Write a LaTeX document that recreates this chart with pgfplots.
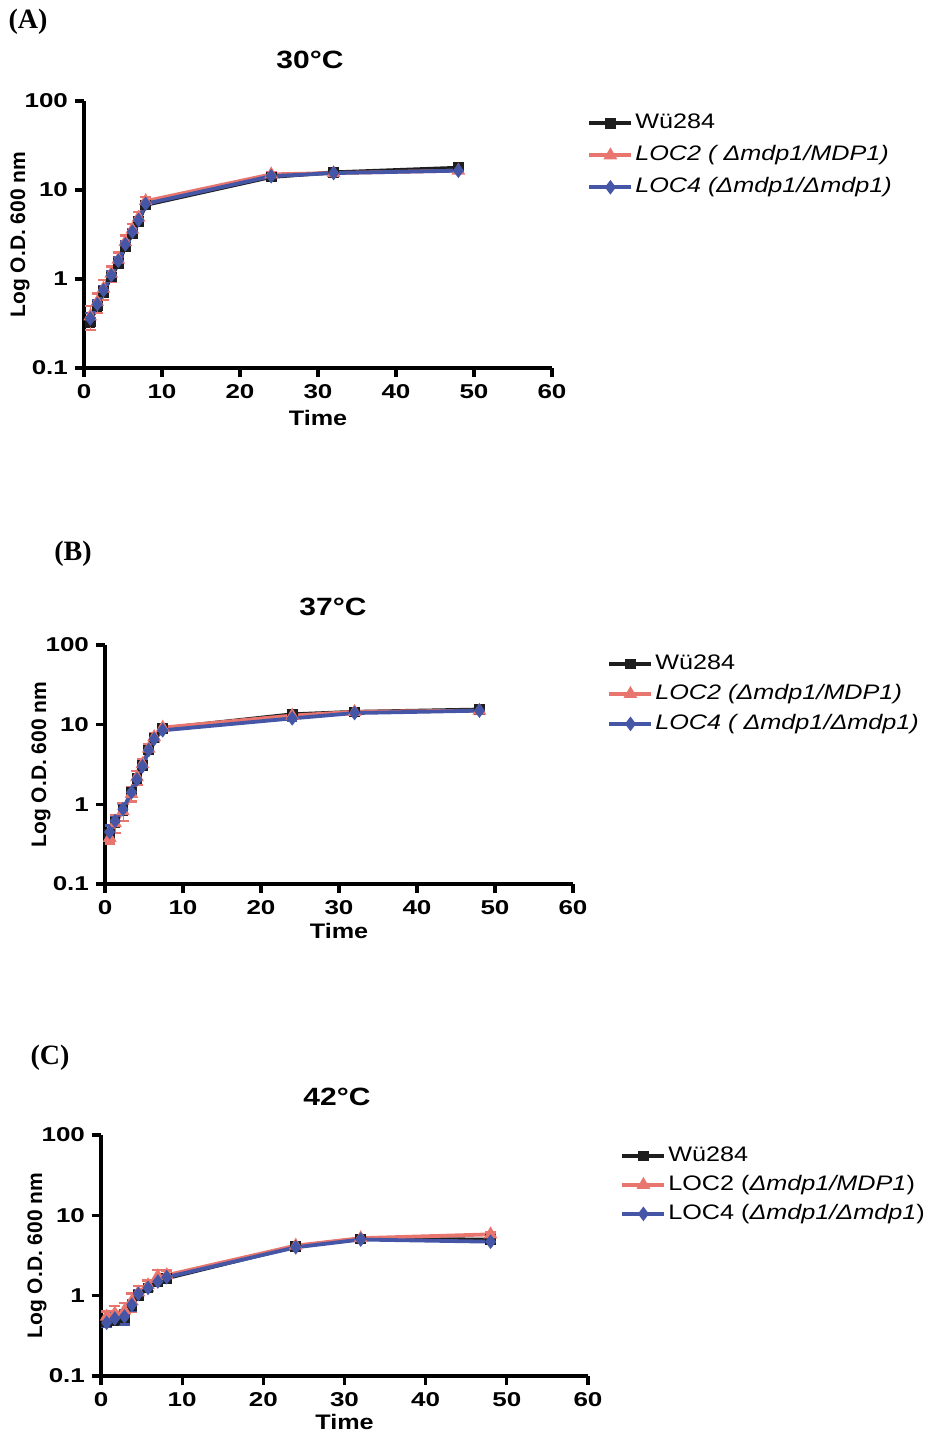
\documentclass[border=0pt]{standalone}
\usepackage{fontspec}
\setmainfont{Liberation Sans}[FakeStretch=1.2]
\newfontfamily\plainsans{Liberation Sans}
\newfontfamily\ticksans{Liberation Sans}[FakeStretch=1.3]
\newfontfamily\serifb{Liberation Serif}
\usepackage{pgfplots}
\pgfplotsset{compat=1.18}
\usepackage{pgfplotstable}

\definecolor{cblk}{HTML}{1E1E1E}
\definecolor{cred}{HTML}{E8766E}
\definecolor{cblu}{HTML}{4656A6}

\pgfplotstableread{
t    b     eb    r     er    u     eu
0.8  0.33  0.12  0.38  0.30  0.36  0.15
1.7  0.50  0.12  0.55  0.25  0.52  0.12
2.5  0.72  0.12  0.78  0.25  0.75  0.12
3.5  1.05  0.12  1.15  0.20  1.10  0.10
4.4  1.50  0.10  1.65  0.20  1.60  0.10
5.3  2.30  0.10  2.60  0.18  2.45  0.10
6.2  3.20  0.10  3.60  0.15  3.40  0.08
7.0  4.40  0.08  4.90  0.15  4.60  0.08
7.9  6.80  0.08  7.50  0.12  7.00  0.08
24   14.0  0.06  15.0  0.05  14.3  0.05
32   15.8  0.04  15.5  0.04  15.5  0.04
48   17.8  0.04  16.5  0.04  16.5  0.04
}\tabA

\pgfplotstableread{
t    b     eb    r     er    u     eu
0.6  0.42  0.12  0.38  0.15  0.45  0.20
1.3  0.60  0.12  0.58  0.25  0.62  0.12
2.3  0.85  0.12  0.82  0.25  0.87  0.12
3.4  1.40  0.12  1.35  0.20  1.42  0.10
4.1  2.10  0.10  2.20  0.20  2.05  0.10
4.8  3.10  0.10  3.20  0.15  3.00  0.10
5.6  4.80  0.10  5.00  0.15  4.80  0.08
6.3  6.80  0.08  7.00  0.12  6.60  0.08
7.4  9.00  0.05  9.20  0.05  8.50  0.05
24   13.5  0.05  13.0  0.04  12.0  0.06
32   14.5  0.04  14.5  0.04  14.0  0.04
48   15.5  0.05  15.0  0.04  15.0  0.04
}\tabB

\pgfplotstableread{
t    b     eb    r     er    u     eu
0.7  0.47  0.08  0.55  0.15  0.46  0.10
1.7  0.50  0.12  0.60  0.25  0.52  0.15
2.9  0.55  0.15  0.65  0.25  0.55  0.20
3.8  0.75  0.12  0.85  0.25  0.77  0.15
4.6  1.00  0.10  1.10  0.20  1.05  0.10
5.8  1.25  0.10  1.35  0.15  1.25  0.10
7.0  1.50  0.10  1.75  0.20  1.50  0.10
8.1  1.65  0.08  1.80  0.15  1.70  0.08
24   4.10  0.05  4.20  0.05  4.00  0.05
32   5.10  0.04  5.20  0.04  5.00  0.08
48   5.00  0.05  5.80  0.05  4.70  0.05
}\tabC

\pgfplotsset{
  growth/.style={
    scale only axis,
    axis lines=left,
    axis line style={-, line width=1.6pt, black},
    ymin=0.1, ymax=100, xmin=0, xmax=60,
    xtick={0,10,20,30,40,50,60}, xticklabels={0,10,20,30,40,50,60},
    ytick={0.1,1,10,100}, yticklabels={0.1,1,10,100},
    yminorticks=false,
    tick align=outside, major tick length=4.5pt,
    every tick/.style={line width=1.6pt, black},
    ticklabel style={font=\ticksans\fontsize{10}{12}\selectfont\bfseries},
    xlabel={Time}, ylabel={Log O.D. 600 nm},
    xlabel style={font=\fontsize{10.5}{12}\selectfont\bfseries},
    ylabel style={font=\plainsans\fontsize{10.5}{12}\selectfont\bfseries,
      at={(axis description cs:0,0.5)}, anchor=center, yshift=32pt},
    legend style={draw=none, fill=none, font=\fontsize{10.5}{12}\selectfont,
      anchor=north west, inner sep=0pt, row sep=4pt,
      nodes={inner sep=1pt, text height=8pt, text depth=2.5pt}},
    legend cell align=left,
  },
  sblk/.style={cblk, line width=1.9pt, mark=square*, mark size=1.7pt, mark options={solid},
    error bars/.cd, y dir=both, y explicit relative,
    error mark options={rotate=90, mark size=2.6pt, line width=1.2pt, cblk}},
  sred/.style={cred, line width=1.9pt, mark=triangle*, mark size=2.1pt, mark options={solid},
    error bars/.cd, y dir=both, y explicit relative,
    error mark options={rotate=90, mark size=2.8pt, line width=1.2pt, cred}},
  sblu/.style={cblu, line width=1.9pt, mark=diamond*, mark size=2.1pt, mark options={solid},
    error bars/.cd, y dir=both, y explicit relative,
    error mark options={rotate=90, mark size=2.6pt, line width=1.2pt, cblu}},
}
\newcommand\legimg{\pgfplotsset{legend image code/.code={\draw[mark repeat=2,mark phase=2,##1] plot coordinates {(0pt,0pt) (10.5pt,0pt) (21pt,0pt)};}}}

\begin{document}
\legimg
\begin{tikzpicture}
\path[use as bounding box] (0,0) rectangle (475pt,-718.5pt);

% Panel A
\begin{axis}[ymode=log, growth, at={(42pt,-184pt)}, anchor=south west,
  width=234pt, height=133.5pt,
  xlabel style={at={(axis description cs:0.5,0)}, anchor=center, yshift=-25pt},
  legend style={at={(1.075,0.965)}, row sep=3.5pt}]
\addplot[sblk] table[x=t, y=b, y error=eb] {\tabA};
\addplot[sred] table[x=t, y=r, y error=er] {\tabA};
\addplot[sblu] table[x=t, y=u, y error=eu] {\tabA};
\legend{Wü284, \textit{LOC2 ( Δmdp1/MDP1)}, \textit{LOC4 (Δmdp1/Δmdp1)}}
\end{axis}

% Panel B
\begin{axis}[ymode=log, growth, at={(52.5pt,-442pt)}, anchor=south west,
  width=234pt, height=119.5pt,
  xlabel style={at={(axis description cs:0.5,0)}, anchor=center, yshift=-23.5pt},
  legend style={at={(1.073,0.975)}, row sep=2.5pt}]
\addplot[sblk] table[x=t, y=b, y error=eb] {\tabB};
\addplot[sred] table[x=t, y=r, y error=er] {\tabB};
\addplot[sblu] table[x=t, y=u, y error=eu] {\tabB};
\legend{Wü284, \textit{LOC2 (Δmdp1/MDP1)}, \textit{LOC4 ( Δmdp1/Δmdp1)}}
\end{axis}

% Panel C
\begin{axis}[ymode=log, growth, at={(50.5pt,-688pt)}, anchor=south west,
  width=243.5pt, height=120.5pt,
  xlabel style={at={(axis description cs:0.5,0)}, anchor=center, yshift=-23pt},
  legend style={at={(1.066,0.967)}, row sep=2pt}]
\addplot[sblk] table[x=t, y=b, y error=eb] {\tabC};
\addplot[sred] table[x=t, y=r, y error=er] {\tabC};
\addplot[sblu] table[x=t, y=u, y error=eu] {\tabC};
\legend{Wü284, LOC2 (\textit{Δmdp1/MDP1}), LOC4 (\textit{Δmdp1/Δmdp1})}
\end{axis}

% titles and panel labels
\node[font=\fontsize{12.5}{14}\selectfont\bfseries] at (155pt,-30pt) {30°C};
\node[font=\fontsize{12.5}{14}\selectfont\bfseries] at (166.5pt,-303.5pt) {37°C};
\node[font=\fontsize{12.5}{14}\selectfont\bfseries] at (168.5pt,-548.5pt) {42°C};
\node[font=\serifb\fontsize{14}{16}\selectfont\bfseries] at (14pt,-11pt) {(A)};
\node[font=\serifb\fontsize{14}{16}\selectfont\bfseries] at (36.5pt,-277pt) {(B)};
\node[font=\serifb\fontsize{14}{16}\selectfont\bfseries] at (25pt,-529pt) {(C)};
\end{tikzpicture}
\end{document}
